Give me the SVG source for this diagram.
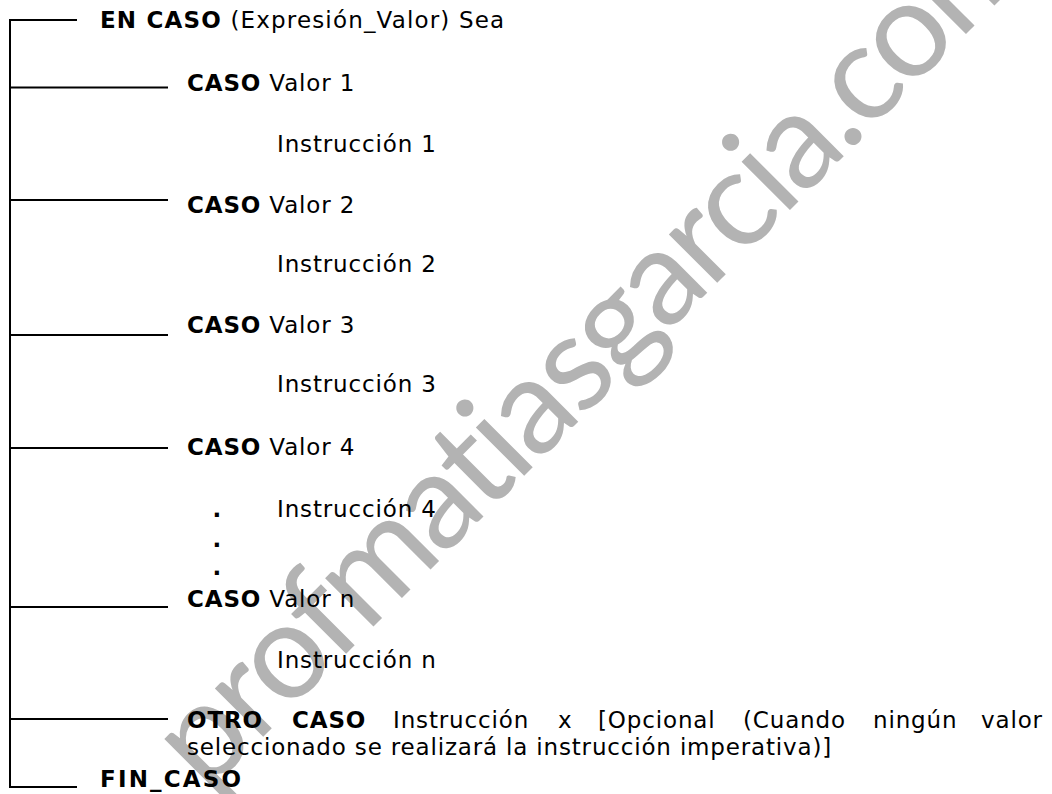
<svg xmlns="http://www.w3.org/2000/svg" width="1052" height="794" viewBox="0 0 1052 794">
<style>
.t{font-family:"DejaVu Sans",Verdana,sans-serif;font-size:23px;fill:#000;letter-spacing:0.85px}
.b{font-weight:bold}
.wm{font-family:Lato,"Open Sans",sans-serif;font-size:135px;fill:#b3b3b3;letter-spacing:-4.3px}
.ln{stroke:#000;stroke-width:2;fill:none}
</style>
<rect width="1052" height="794" fill="#fff"/>
<text class="wm" transform="translate(206,794) rotate(-45)">profmatiasgarcia.com</text>
<g id="connectors" class="ln">
<path d="M10 19V788"/>
<path d="M9 20H77"/>
<path d="M9 87.5H168"/>
<path d="M9 200H168"/>
<path d="M9 335H168"/>
<path d="M9 448H168"/>
<path d="M9 607H168"/>
<path d="M9 719H168"/>
<path d="M9 787H77"/>
</g>
<g id="n-encaso"><text class="t" x="100" y="28" textLength="405" lengthAdjust="spacing"><tspan class="b">EN CASO</tspan> (Expresión_Valor) Sea</text></g>
<g id="n-caso1"><text class="t" x="187" y="91"><tspan class="b">CASO</tspan> Valor 1</text></g>
<g id="n-inst1"><text class="t" x="277" y="152">Instrucción 1</text></g>
<g id="n-caso2"><text class="t" x="187" y="213"><tspan class="b">CASO</tspan> Valor 2</text></g>
<g id="n-inst2"><text class="t" x="277" y="272">Instrucción 2</text></g>
<g id="n-caso3"><text class="t" x="187" y="333"><tspan class="b">CASO</tspan> Valor 3</text></g>
<g id="n-inst3"><text class="t" x="277" y="392">Instrucción 3</text></g>
<g id="n-caso4"><text class="t" x="187" y="455"><tspan class="b">CASO</tspan> Valor 4</text></g>
<g id="n-inst4"><text class="t" x="277" y="517">Instrucción 4</text></g>
<g id="n-dots">
<text class="t b" x="212.5" y="517">.</text>
<text class="t b" x="212.5" y="547">.</text>
<text class="t b" x="212.5" y="575">.</text>
</g>
<g id="n-cason"><text class="t" x="187" y="607"><tspan class="b">CASO</tspan> Valor n</text></g>
<g id="n-instn"><text class="t" x="277" y="668">Instrucción n</text></g>
<g id="n-otro">
<text class="t" y="728"><tspan class="b" x="187">OTRO</tspan><tspan class="b" x="292">CASO</tspan><tspan x="393">Instrucción</tspan><tspan x="558">x</tspan><tspan x="598">[Opcional</tspan><tspan x="743">(Cuando</tspan><tspan x="873">ningún</tspan><tspan x="981">valor</tspan></text>
<text class="t" x="187" y="755" textLength="645" lengthAdjust="spacing">seleccionado se realizará la instrucción imperativa)]</text>
</g>
<g id="n-fin"><text class="t b" x="100" y="787" textLength="142" lengthAdjust="spacing">FIN_CASO</text></g>
</svg>
